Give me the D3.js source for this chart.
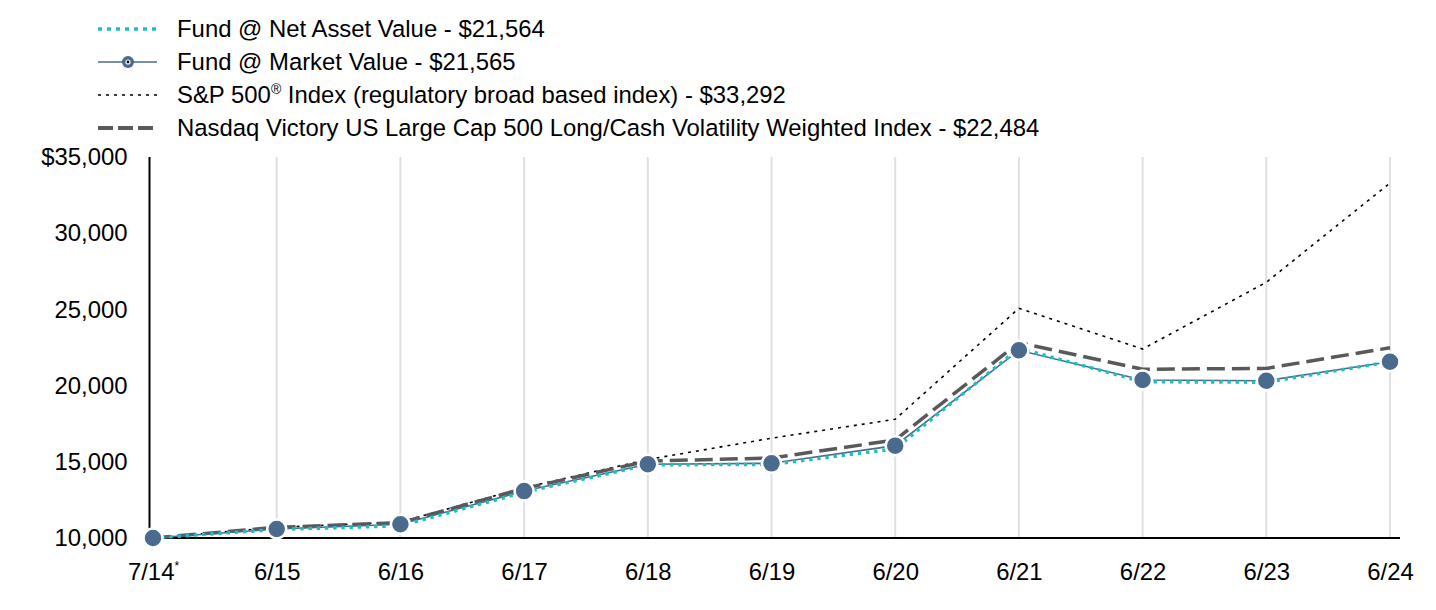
<!DOCTYPE html>
<html><head><meta charset="utf-8">
<script src="https://cdn.jsdelivr.net/npm/d3@7"></script>
<style>body{margin:0;background:#fff}svg{display:block;font-family:"Liberation Sans",Arial,sans-serif}</style>
</head><body><svg id="c" width="1436" height="610"></svg>
<script>
const categories = ["7/14","6/15","6/16","6/17","6/18","6/19","6/20","6/21","6/22","6/23","6/24"];
const navValues    = [10000,10560,10800,13000,14800,14830,15850,22450,20250,20220,21564];
const marketValues = [10000,10590,10900,13080,14840,14900,16060,22320,20370,20320,21565];
const spValues     = [10000,10700,11050,13300,15150,16550,17790,25070,22400,26780,33292];
const nasdaqValues = [10000,10700,11000,13250,15050,15250,16430,22820,21070,21130,22484];
const yTicks = [10000,15000,20000,25000,30000,35000];
const legendLabels = [
  "Fund @ Net Asset Value - $21,564",
  "Fund @ Market Value - $21,565",
  "S&P 500® Index (regulatory broad based index) - $33,292",
  "Nasdaq Victory US Large Cap 500 Long/Cash Volatility Weighted Index - $22,484"
];
const FS = 23.9;

const svg = d3.select("#c");
const x = d3.scalePoint().domain(categories).range([153, 1390]);
const y = d3.scaleLinear().domain([10000, 35000]).range([538, 157]);

// vertical grid lines
svg.append("g").selectAll("line").data(categories.slice(1)).join("line")
  .attr("x1", d => x(d)).attr("x2", d => x(d))
  .attr("y1", y(35000)).attr("y2", y(10000))
  .attr("stroke", "#e0e0e0").attr("stroke-width", 2);

// axes
const yAxis = svg.append("g").attr("transform", "translate(149.5,0)")
  .call(d3.axisLeft(y).tickValues(yTicks).tickSize(0).tickPadding(22)
    .tickFormat(d => (d === 35000 ? "$" : "") + d3.format(",")(d)));
yAxis.select(".domain").attr("stroke", "#000").attr("stroke-width", 2).attr("d", `M0,${y(35000)}V${y(10000)}`);
yAxis.selectAll("text").attr("font-size", FS).attr("fill", "#000").attr("font-family", "Liberation Sans, Arial, sans-serif");

const xAxis = svg.append("g").attr("transform", `translate(0,${y(10000)})`)
  .call(d3.axisBottom(x).tickSize(0).tickPadding(25));
xAxis.select(".domain").attr("stroke", "#000").attr("stroke-width", 2).attr("d", "M149,0H1400");
xAxis.selectAll("text").attr("font-size", FS).attr("fill", "#000").attr("font-family", "Liberation Sans, Arial, sans-serif")
  .each(function(d){
    if (d === "7/14") {
      const t = d3.select(this); t.text(d);
      t.append("tspan").attr("font-size", 12).attr("dy", -10).text("*");
    }
  });

const line = d3.line().x((d,i) => x(categories[i])).y(d => y(d));
svg.append("path").datum(spValues).attr("d", line).attr("fill","none")
  .attr("stroke","#000").attr("stroke-width",1.6).attr("stroke-dasharray","3,5");
svg.append("path").datum(nasdaqValues).attr("d", line).attr("fill","none")
  .attr("stroke","#595959").attr("stroke-width",3.5).attr("stroke-dasharray","18,7");
svg.append("path").datum(marketValues).attr("d", line).attr("fill","none")
  .attr("stroke","#4a6a8e").attr("stroke-width",1.6);
svg.append("path").datum(navValues).attr("d", line).attr("fill","none")
  .attr("stroke","#1cbfc6").attr("stroke-width",3.4).attr("stroke-dasharray","3.4,4.8");

svg.append("g").selectAll("circle").data(marketValues).join("circle")
  .attr("cx",(d,i)=>x(categories[i])).attr("cy",d=>y(d)).attr("r",9.5)
  .attr("fill","#4a6a8e").attr("stroke","#fff").attr("stroke-width",2.5);

// legend
const lg = svg.append("g");
const rows = [29, 62, 95, 128];
const styles = [
  {stroke:"#1cbfc6", w:3.5, dash:"4,5"},
  {stroke:"#4a6a8e", w:1.6, dash:null},
  {stroke:"#000", w:1.6, dash:"3,5"},
  {stroke:"#595959", w:4, dash:"15,5"}
];
legendLabels.forEach((lab, i) => {
  const s = styles[i];
  const l = lg.append("line").attr("x1",98).attr("x2",157).attr("y1",rows[i]).attr("y2",rows[i])
    .attr("stroke",s.stroke).attr("stroke-width",s.w);
  if (s.dash) l.attr("stroke-dasharray", s.dash);
  if (i === 1) {
    lg.append("circle").attr("cx",128).attr("cy",rows[i]).attr("r",6).attr("fill","#4a6a8e");
    lg.append("circle").attr("cx",128).attr("cy",rows[i]).attr("r",2.6).attr("fill","#fff");
    lg.append("circle").attr("cx",128).attr("cy",rows[i]).attr("r",1.4).attr("fill","#000");
  }
  const t = lg.append("text").attr("x",177).attr("y",rows[i]+8).attr("font-size",FS).attr("fill","#000");
  if (lab.includes("®")) {
    const parts = lab.split("®");
    t.append("tspan").text(parts[0]);
    t.append("tspan").attr("font-size",14).attr("dy",-9).text("®");
    t.append("tspan").attr("dy",9).text(parts[1]);
  } else t.text(lab);
});
</script></body></html>
